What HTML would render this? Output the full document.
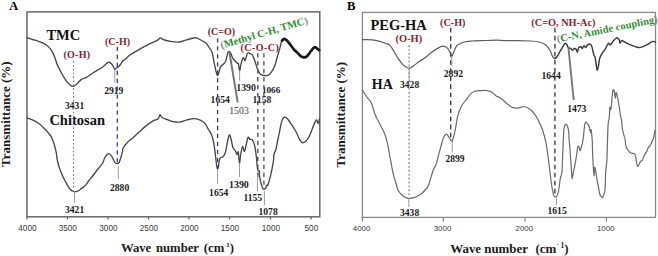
<!DOCTYPE html>
<html><head><meta charset="utf-8">
<style>
html,body{margin:0;padding:0;background:#fff;width:658px;height:256px;overflow:hidden}
svg{display:block}
.sf{font-family:"Liberation Serif",serif;font-weight:bold}
.red{fill:#8c1d2c}
.grn{fill:#2f8a34}
.num{font-family:"Liberation Serif",serif;font-weight:bold;fill:#1a1a1a;font-size:9.6px}
.numr{font-family:"Liberation Serif",serif;fill:#2a2a2a;font-size:9.8px}
.tk{font-family:"Liberation Sans",sans-serif;fill:#383838}
.curve{fill:none;stroke:#474747;stroke-width:1.35;stroke-linejoin:round;stroke-linecap:round}
.dash{stroke:#4c44bc;stroke-width:1.4;stroke-dasharray:4.3 3.66;fill:none}
.dashb{stroke:#3c3c68;stroke-width:1.4;stroke-dasharray:4.6 3.45;fill:none}
.dot{stroke:#74749a;stroke-width:1.1;stroke-dasharray:1.6 2.3;fill:none}
.dotb{stroke:#7c7c9c;stroke-width:1.2;stroke-dasharray:1.9 2.0;fill:none}
.gl{stroke:#9a9a9a;stroke-width:1;fill:none}
</style></head>
<body>
<svg width="658" height="256" viewBox="0 0 658 256">

<!-- PANEL A frame -->
<text x="9" y="10.1" class="sf" font-size="12.8">A</text>
<rect x="27" y="11.9" width="292.8" height="204.9" fill="none" stroke="#666" stroke-width="1.5"/>
<g stroke="#666" stroke-width="1.2">
<line x1="27" y1="216.8" x2="27" y2="219.6"/><line x1="67.4" y1="216.8" x2="67.4" y2="219.6"/>
<line x1="108" y1="216.8" x2="108" y2="219.6"/><line x1="148.5" y1="216.8" x2="148.5" y2="219.6"/>
<line x1="189" y1="216.8" x2="189" y2="219.6"/><line x1="229.5" y1="216.8" x2="229.5" y2="219.6"/>
<line x1="270.5" y1="216.8" x2="270.5" y2="219.6"/><line x1="311" y1="216.8" x2="311" y2="219.6"/>
</g>
<g class="tk" font-size="8.2" text-anchor="middle" transform="translate(0.4,0)">
<text x="27" y="231.2">4000</text><text x="67.4" y="231.2">3500</text><text x="108" y="231.2">3000</text>
<text x="148.5" y="231.2">2500</text><text x="189" y="231.2">2000</text><text x="229.5" y="231.2">1500</text>
<text x="270.5" y="231.2">1000</text><text x="311" y="231.2">500</text>
</g>
<g class="sf" font-size="12.7" fill="#1a1a1a"><text x="120.9" y="251.8">Wave</text><text x="156" y="251.8">number</text><text x="203.8" y="251.8">(cm</text><text x="224.4" y="246.5" font-size="7" fill="#999">-</text><text x="226.2" y="246.8" font-size="7">1</text><text x="229.8" y="251.8">)</text></g>
<text transform="translate(9.9,114.2) rotate(-90)" class="sf" font-size="13" text-anchor="middle" fill="#1a1a1a">Transmittance (%)</text>
<!-- PANEL B frame -->
<text x="347" y="9.7" class="sf" font-size="12.7">B</text>
<rect x="362.4" y="12.4" width="293.1" height="205" fill="none" stroke="#888" stroke-width="1.3"/>
<g stroke="#777" stroke-width="1.1">
<line x1="362.4" y1="217.4" x2="362.4" y2="221.4"/><line x1="443.2" y1="217.4" x2="443.2" y2="221.4"/>
<line x1="525" y1="217.4" x2="525" y2="221.4"/><line x1="606.4" y1="217.4" x2="606.4" y2="221.4"/>
</g>
<g class="tk" font-size="7.9" text-anchor="middle">
<text x="361.6" y="231.1">4000</text><text x="442.5" y="231.1">3000</text>
<text x="524.3" y="231.1">2000</text><text x="605.7" y="231.1">1000</text>
</g>
<g class="sf" font-size="12.95" fill="#1a1a1a"><text x="450.2" y="252.6">Wave</text><text x="484.2" y="252.6">number</text><text x="535.5" y="252.6">(cm</text><text x="556.5" y="247.3" font-size="7.5" fill="#999">-</text><text x="560.6" y="247.6" font-size="7.5">1</text><text x="564.2" y="252.6">)</text></g>
<text transform="translate(345.3,114.7) rotate(-90)" class="sf" font-size="13" text-anchor="middle" fill="#1a1a1a">Transmittance (%)</text>

<path class="curve"  d="M27.0,37.7 C27.8,38.0 30.2,38.7 32.0,39.3 C33.8,39.9 36.1,40.5 37.9,41.1 C39.7,41.7 41.1,42.2 42.6,42.9 C44.1,43.6 45.4,44.2 46.7,45.2 C48.0,46.2 49.1,47.3 50.2,48.7 C51.3,50.1 52.2,51.5 53.1,53.4 C54.0,55.3 55.1,58.2 55.7,60.0 C56.4,61.8 56.0,61.9 57.0,64.1 C58.0,66.3 60.1,70.5 61.6,73.3 C63.1,76.1 64.7,78.9 66.2,80.9 C67.7,82.9 69.5,84.6 70.7,85.5 C71.9,86.4 72.3,86.5 73.3,86.3 C74.3,86.0 75.4,85.2 76.8,84.0 C78.2,82.8 79.9,80.5 81.4,79.4 C82.9,78.3 84.0,78.8 86.0,77.6 C88.0,76.4 91.1,74.1 93.6,72.5 C96.1,70.9 99.3,69.2 101.2,68.0 C103.1,66.8 103.8,66.0 105.0,65.0 C106.2,64.0 107.1,62.6 108.1,62.3 C109.1,62.0 110.3,62.8 111.1,63.4 C111.9,64.0 112.4,65.0 113.0,66.0 C113.6,67.0 114.3,69.2 114.9,69.5 C115.5,69.8 115.7,68.6 116.5,68.0 C117.3,67.4 118.5,66.9 119.5,65.7 C120.5,64.5 121.8,62.1 122.6,61.1 C123.4,60.1 123.2,60.9 124.6,59.8 C125.9,58.7 128.2,56.3 130.7,54.5 C133.2,52.7 136.5,51.0 139.8,49.1 C143.1,47.2 147.6,44.9 150.5,43.4 C153.4,41.9 155.7,41.2 157.3,40.3 C159.0,39.4 159.5,38.1 160.4,37.9 C161.3,37.7 161.0,38.7 162.7,39.3 C164.3,39.9 167.5,40.8 170.3,41.3 C173.1,41.8 176.7,42.3 179.5,42.0 C182.3,41.7 184.4,40.4 187.1,39.7 C189.8,39.0 193.2,37.7 195.5,37.7 C197.8,37.8 199.1,39.1 200.8,40.0 C202.5,40.9 204.6,41.9 205.9,43.0 C207.2,44.1 207.7,45.4 208.6,46.7 C209.5,48.0 210.8,49.6 211.5,51.0 C212.2,52.4 212.2,52.7 212.7,55.0 C213.2,57.3 214.0,62.0 214.6,64.8 C215.2,67.6 215.6,69.8 216.1,71.6 C216.6,73.4 217.1,75.4 217.5,75.6 C217.9,75.8 218.2,74.5 218.7,73.0 C219.2,71.5 219.8,68.4 220.5,66.9 C221.2,65.5 222.3,65.2 223.2,64.3 C224.0,63.3 225.0,62.6 225.6,61.2 C226.2,59.8 226.6,57.4 227.0,56.0 C227.4,54.6 227.6,53.4 227.9,52.6 C228.2,51.8 228.5,51.3 229.0,51.4 C229.5,51.5 230.2,52.1 230.8,53.2 C231.4,54.3 231.9,56.6 232.6,57.9 C233.3,59.2 234.1,59.9 234.9,60.8 C235.7,61.7 236.6,62.7 237.2,63.2 C237.8,63.7 238.0,62.5 238.4,63.8 C238.8,65.1 239.2,70.6 239.6,70.8 C240.0,71.0 240.3,66.9 240.8,64.9 C241.3,63.0 242.0,60.3 242.5,59.1 C243.0,57.9 243.3,57.6 243.7,57.9 C244.1,58.2 244.5,60.8 244.9,60.8 C245.3,60.8 245.6,59.1 246.0,57.9 C246.4,56.7 246.8,54.7 247.2,53.8 C247.6,52.9 247.9,52.6 248.4,52.6 C248.9,52.6 249.5,53.5 250.1,53.8 C250.7,54.1 251.3,53.7 251.9,54.4 C252.5,55.1 253.1,56.5 253.7,57.9 C254.3,59.3 254.8,60.9 255.4,62.6 C256.0,64.4 256.6,66.8 257.2,68.4 C257.8,70.0 258.1,70.9 258.9,72.0 C259.7,73.1 260.6,74.7 262.1,75.2 C263.7,75.7 266.7,75.7 268.2,75.2 C269.7,74.7 270.2,73.7 271.3,72.2 C272.4,70.7 273.7,68.4 274.6,66.3 C275.5,64.2 275.9,61.9 276.5,59.8 C277.1,57.6 277.7,55.4 278.3,53.4 C278.9,51.4 279.4,49.6 280.0,47.6 C280.6,45.6 281.0,42.6 281.7,41.1 C282.4,39.6 283.7,39.2 284.1,38.8"/>
<path class="curve" style="stroke:#181818;stroke-width:2.7" d="M282.0,40.6 C282.4,40.3 283.4,38.9 284.1,38.8 C284.8,38.7 285.4,39.1 286.4,40.0 C287.4,40.9 288.7,42.6 289.9,44.1 C291.1,45.6 292.2,47.4 293.4,48.8 C294.6,50.2 295.8,51.2 297.0,52.4 C298.2,53.6 299.6,55.1 300.5,55.9 C301.4,56.7 301.8,56.8 302.5,57.0 C303.2,57.2 303.8,57.5 304.5,57.4 C305.2,57.3 305.8,57.1 306.5,56.6 C307.2,56.1 307.8,55.3 308.5,54.4 C309.2,53.5 310.0,52.2 311.0,51.0 C312.0,49.8 313.5,47.8 314.5,47.3 C315.5,46.8 316.1,47.8 316.9,48.3 C317.7,48.8 318.8,50.0 319.2,50.4"/>
<path class="curve"  d="M27.3,118.0 C28.4,118.4 32.0,119.5 34.1,120.6 C36.2,121.7 38.2,122.7 40.2,124.4 C42.2,126.1 44.5,128.7 46.3,130.6 C48.1,132.5 49.6,133.9 50.9,136.1 C52.2,138.3 53.1,140.9 54.0,143.7 C54.9,146.5 55.8,150.2 56.3,152.9 C56.8,155.6 56.8,157.6 57.3,160.0 C57.8,162.4 58.5,165.1 59.3,167.6 C60.1,170.1 61.5,173.2 62.3,175.2 C63.1,177.1 63.6,178.0 64.3,179.3 C65.0,180.6 65.5,181.7 66.2,182.9 C66.9,184.2 67.8,185.7 68.5,186.8 C69.2,187.9 70.0,189.0 70.7,189.7 C71.4,190.4 72.0,190.7 72.5,191.0 C73.0,191.3 73.5,191.5 74.0,191.6 C74.5,191.7 74.9,191.8 75.5,191.7 C76.1,191.6 76.9,191.5 77.6,191.2 C78.3,190.9 79.3,190.3 79.9,189.8 C80.5,189.3 81.0,188.7 81.4,188.4 C81.9,188.1 82.1,188.2 82.6,187.9 C83.1,187.6 83.6,186.9 84.2,186.3 C84.8,185.8 85.2,185.6 86.0,184.6 C86.8,183.6 88.0,181.8 89.0,180.5 C90.0,179.2 90.8,178.4 92.1,176.8 C93.4,175.2 95.3,172.3 96.6,170.7 C97.9,169.0 98.7,168.2 99.7,166.9 C100.7,165.6 101.8,164.6 102.7,163.0 C103.6,161.4 104.0,159.0 105.0,157.4 C106.0,155.8 107.6,153.7 108.8,153.6 C110.0,153.5 111.1,155.5 111.9,156.7 C112.7,157.8 113.2,159.4 113.8,160.5 C114.4,161.6 114.9,162.5 115.5,163.0 C116.1,163.5 116.7,163.7 117.3,163.6 C117.9,163.5 118.5,163.2 119.0,162.5 C119.5,161.8 119.6,161.4 120.2,159.5 C120.8,157.6 122.1,153.2 122.6,151.3 C123.1,149.4 122.2,149.8 123.0,148.3 C123.8,146.8 126.1,143.8 127.6,142.2 C129.1,140.5 130.4,140.0 132.2,138.4 C134.0,136.8 136.0,134.9 138.3,132.8 C140.6,130.7 143.4,127.9 145.9,125.9 C148.4,123.9 151.5,121.8 153.5,120.6 C155.5,119.4 157.0,120.0 158.1,119.0 C159.2,118.0 159.3,115.0 159.9,114.8 C160.5,114.5 160.9,116.8 161.9,117.5 C162.9,118.2 164.0,118.4 165.7,119.0 C167.3,119.6 169.5,120.8 171.8,121.3 C174.1,121.8 176.9,122.3 179.5,122.1 C182.1,121.8 184.6,120.4 187.1,119.8 C189.6,119.2 192.4,118.5 194.7,118.6 C197.0,118.7 199.1,119.5 200.8,120.3 C202.5,121.1 203.6,121.9 204.9,123.4 C206.2,124.9 207.4,127.6 208.5,129.5 C209.6,131.4 210.8,133.1 211.6,135.0 C212.4,136.9 212.8,138.1 213.4,141.1 C214.0,144.1 214.8,149.9 215.2,153.2 C215.6,156.5 215.8,158.7 216.1,161.0 C216.4,163.3 216.7,165.6 216.9,167.0 C217.2,168.4 217.3,169.3 217.6,169.3 C217.8,169.3 218.2,168.2 218.4,167.0 C218.6,165.8 218.8,163.2 219.0,162.0 C219.2,160.8 219.3,160.2 219.6,159.5 C219.9,158.8 220.1,157.9 220.7,157.5 C221.3,157.1 222.3,157.8 223.1,156.9 C223.9,156.0 224.8,154.4 225.5,152.0 C226.2,149.6 226.8,145.1 227.4,142.3 C228.0,139.5 228.6,135.6 229.2,135.0 C229.8,134.4 230.4,136.6 231.0,138.6 C231.6,140.6 232.1,145.2 232.8,147.2 C233.5,149.2 234.6,149.6 235.3,150.8 C236.0,152.0 236.6,154.3 237.1,154.5 C237.6,154.7 237.9,150.6 238.3,152.0 C238.7,153.4 239.1,162.6 239.5,163.0 C239.9,163.4 240.2,157.2 240.7,154.5 C241.2,151.8 242.0,147.1 242.6,146.6 C243.2,146.1 243.8,151.7 244.4,151.4 C245.0,151.1 245.6,147.0 246.2,144.7 C246.8,142.4 247.4,138.3 248.0,137.4 C248.6,136.5 249.1,138.9 249.8,139.3 C250.5,139.7 251.5,138.8 252.3,139.9 C253.1,141.0 254.0,142.9 254.7,145.9 C255.4,148.9 256.1,154.7 256.5,158.0 C256.9,161.3 256.9,163.6 257.1,165.5 C257.3,167.4 257.5,168.6 257.7,169.5 C257.9,170.4 258.1,170.7 258.4,171.0 C258.7,171.3 259.2,170.6 259.4,171.2 C259.6,171.8 259.3,173.2 259.4,174.6 C259.5,176.0 259.9,177.9 260.2,179.5 C260.5,181.1 261.0,182.9 261.4,184.3 C261.8,185.7 262.2,187.2 262.6,188.0 C263.0,188.8 263.3,189.4 263.8,189.4 C264.3,189.4 265.2,188.7 265.7,188.0 C266.2,187.3 266.6,185.4 266.9,185.0 C267.2,184.6 267.2,185.9 267.5,185.5 C267.8,185.1 268.2,184.1 268.7,182.5 C269.2,180.9 269.9,178.3 270.5,175.8 C271.1,173.3 271.8,169.9 272.3,167.3 C272.8,164.7 273.3,162.2 273.6,160.0 C273.9,157.8 273.6,155.7 274.0,154.0 C274.4,152.3 275.3,151.6 275.8,149.8 C276.3,148.0 276.8,145.1 277.2,143.0 C277.6,140.9 277.9,139.4 278.3,137.5 C278.7,135.6 279.1,133.9 279.6,131.4 C280.1,128.9 280.8,124.8 281.4,122.6 C282.0,120.4 282.4,119.1 283.1,118.2 C283.8,117.3 284.9,117.0 285.8,117.3 C286.7,117.6 287.4,118.7 288.4,120.0 C289.4,121.3 290.8,123.5 291.9,125.2 C293.0,126.9 294.1,128.5 295.0,130.0 C295.9,131.5 296.5,132.6 297.2,134.0 C297.9,135.4 298.1,136.9 299.0,138.4 C299.9,139.9 301.3,142.4 302.5,142.8 C303.7,143.2 305.0,141.9 306.0,141.0 C307.0,140.1 307.7,139.1 308.6,137.5 C309.5,135.9 310.3,133.9 311.3,131.4 C312.3,128.9 313.9,124.5 314.8,122.6 C315.7,120.7 315.9,119.8 316.5,120.0 C317.1,120.2 317.8,123.7 318.3,123.5 C318.8,123.3 319.1,119.8 319.3,119.0"/>
<path class="curve" style="stroke:#5e5e5e;stroke-width:1.25" d="M362.5,39.7 C364.1,39.7 369.3,39.5 372.2,39.8 C375.1,40.1 377.5,40.7 379.8,41.3 C382.1,41.9 384.4,43.0 385.9,43.5 C387.4,44.0 388.1,43.9 389.0,44.6 C389.9,45.3 390.8,46.5 391.5,47.5 C392.2,48.5 392.4,48.9 393.5,50.7 C394.6,52.5 396.6,56.0 398.1,58.3 C399.6,60.6 400.9,62.8 402.7,64.4 C404.5,66.1 407.0,68.0 408.8,68.2 C410.6,68.5 411.6,67.1 413.4,65.9 C415.2,64.8 417.5,62.7 419.5,61.3 C421.5,59.9 423.5,59.0 425.5,57.5 C427.5,56.0 429.6,53.7 431.6,52.2 C433.6,50.7 436.2,49.3 437.7,48.4 C439.2,47.5 439.8,47.0 440.8,46.6 C441.8,46.2 442.7,45.8 443.8,46.1 C444.9,46.4 446.6,47.2 447.7,48.4 C448.8,49.6 449.8,52.2 450.5,53.5 C451.2,54.8 451.2,56.5 451.7,56.3 C452.2,56.1 453.0,53.8 453.7,52.2 C454.4,50.6 455.3,48.1 456.0,46.9 C456.7,45.7 456.6,45.6 458.0,44.8 C459.4,44.0 461.6,42.7 464.1,42.0 C466.7,41.3 469.7,41.0 473.3,40.8 C476.9,40.5 481.7,40.6 485.5,40.5 C489.3,40.4 492.9,40.1 496.2,40.1 C499.5,40.1 502.0,40.6 505.3,40.7 C508.6,40.8 511.7,40.6 516.0,40.6 C520.3,40.6 527.4,40.8 531.2,41.0 C535.1,41.2 536.8,41.4 539.1,42.0 C541.4,42.6 543.4,43.3 545.2,44.6 C547.0,45.9 548.5,47.9 549.8,50.0 C551.1,52.1 552.1,55.7 552.9,57.1 C553.7,58.5 554.1,58.6 554.7,58.6 C555.3,58.6 556.2,57.4 556.5,57.2"/>
<path class="curve" style="stroke:#3a3a3a;stroke-width:1.45" d="M554.7,58.6 C555.0,58.4 555.9,57.8 556.5,57.2 C557.1,56.6 557.5,55.9 558.2,54.8 C558.9,53.7 559.9,51.6 560.5,50.5 C561.1,49.4 561.5,49.1 562.0,48.2 C562.5,47.3 563.2,45.8 563.8,45.0 C564.3,44.2 564.8,43.4 565.3,43.3 C565.8,43.2 566.3,43.8 566.8,44.5 C567.3,45.2 567.5,46.9 568.2,47.6 C568.9,48.3 570.1,48.1 570.8,48.5 C571.5,48.9 572.0,50.2 572.6,50.2 C573.2,50.2 573.7,48.6 574.3,48.5 C574.9,48.4 575.6,48.7 576.1,49.3 C576.6,49.9 577.1,52.3 577.5,52.0 C577.9,51.7 578.1,48.5 578.7,47.6 C579.3,46.7 580.4,46.6 581.0,46.7 C581.6,46.9 581.7,48.6 582.2,48.5 C582.7,48.4 583.4,45.9 584.0,45.8 C584.6,45.6 585.2,47.8 585.8,47.6 C586.4,47.5 586.8,45.5 587.5,44.9 C588.2,44.3 589.4,43.8 590.1,44.1 C590.8,44.4 591.3,45.0 591.9,46.7 C592.5,48.5 593.2,52.9 593.7,54.6 C594.2,56.4 594.7,55.5 595.1,57.2 C595.5,59.0 595.9,62.9 596.3,65.1 C596.6,67.3 596.8,70.4 597.2,70.4 C597.6,70.4 598.2,67.1 598.6,65.1 C599.0,63.0 599.1,60.1 599.8,58.1 C600.4,56.1 601.6,54.3 602.5,52.8 C603.4,51.3 604.4,50.5 605.1,49.3 C605.8,48.1 606.2,46.8 606.8,45.8 C607.4,44.8 608.0,43.4 608.6,43.2 C609.2,43.1 609.7,45.2 610.4,44.9 C611.1,44.6 612.0,42.6 613.0,41.4 C614.0,40.2 615.5,38.2 616.5,37.9 C617.5,37.6 618.5,38.8 619.1,39.7 C619.7,40.6 619.5,43.1 620.0,43.2 C620.5,43.3 620.9,40.6 621.8,40.5 C622.7,40.4 623.8,41.6 625.3,42.3 C626.8,43.0 628.9,44.2 630.6,44.9 C632.4,45.6 634.3,46.2 635.8,46.7 C637.3,47.2 638.2,47.6 639.4,47.6 C640.6,47.6 641.4,47.3 642.9,46.7 C644.4,46.1 646.5,45.0 648.1,44.1 C649.7,43.2 651.3,41.7 652.5,41.4 C653.7,41.1 655.0,42.1 655.5,42.2"/>
<path class="curve" style="stroke:#6a6a6a;stroke-width:1.2" d="M362.3,90.2 C363.1,91.3 365.4,94.8 366.9,97.0 C368.4,99.2 370.0,100.1 371.4,103.1 C372.8,106.1 373.8,111.3 375.2,114.8 C376.6,118.3 378.3,121.0 379.8,124.0 C381.3,127.0 383.1,129.8 384.4,133.0 C385.7,136.2 386.5,139.6 387.4,143.3 C388.3,147.1 389.0,152.0 389.7,155.5 C390.4,159.0 390.7,160.9 391.3,164.1 C391.9,167.3 392.6,171.2 393.5,174.8 C394.4,178.4 395.8,182.9 396.6,185.5 C397.4,188.1 397.1,188.6 398.1,190.3 C399.1,192.0 400.9,194.3 402.7,195.7 C404.5,197.0 406.8,198.2 408.8,198.4 C410.8,198.7 412.9,197.9 414.9,197.2 C416.9,196.5 419.2,195.4 421.0,194.1 C422.8,192.8 424.2,191.1 425.5,189.6 C426.8,188.1 427.3,188.2 428.6,185.0 C429.9,181.8 431.9,173.7 433.2,170.2 C434.5,166.7 435.2,167.1 436.2,164.1 C437.2,161.1 438.1,156.6 439.3,152.4 C440.5,148.2 442.0,141.8 443.1,138.7 C444.2,135.6 445.2,134.5 446.1,134.1 C447.0,133.7 447.5,135.2 448.4,136.4 C449.3,137.6 450.7,140.6 451.5,141.0 C452.3,141.4 452.4,140.6 453.0,138.7 C453.6,136.8 454.5,133.5 455.3,129.6 C456.1,125.7 456.9,119.2 458.0,115.2 C459.1,111.2 460.6,107.8 461.9,105.3 C463.2,102.8 464.3,102.3 465.7,100.5 C467.1,98.7 468.7,95.9 470.2,94.4 C471.7,92.9 473.0,91.9 474.8,91.3 C476.6,90.7 478.9,90.7 480.9,90.6 C482.9,90.5 485.2,90.3 487.0,90.6 C488.8,90.8 490.1,91.2 491.6,92.1 C493.1,93.0 494.7,94.9 496.2,95.9 C497.7,96.9 498.9,96.9 500.7,98.2 C502.5,99.5 504.8,101.9 506.8,103.5 C508.8,105.1 510.9,106.9 512.9,107.6 C514.9,108.3 517.1,108.1 519.0,107.9 C520.9,107.7 522.2,106.3 524.0,106.5 C525.8,106.7 528.0,107.9 529.7,109.1 C531.4,110.3 532.8,111.7 534.3,113.7 C535.8,115.7 537.4,118.7 538.8,121.3 C540.1,123.9 541.2,126.0 542.4,129.5 C543.6,133.0 544.8,137.1 545.8,142.2 C546.8,147.3 547.9,155.4 548.5,160.0 C549.1,164.6 549.2,165.5 549.7,169.7 C550.2,173.9 551.1,181.4 551.6,185.0 C552.1,188.6 552.4,189.3 552.8,191.1 C553.2,192.9 553.4,195.1 554.0,196.0 C554.6,196.9 555.7,197.2 556.4,196.6 C557.1,196.0 557.7,194.2 558.2,192.3 C558.7,190.4 559.2,187.1 559.5,185.0 C559.8,182.9 559.7,181.6 560.1,179.5 C560.5,177.4 561.5,175.4 561.9,172.2 C562.3,168.9 562.3,164.6 562.5,160.0 C562.7,155.4 562.9,149.5 563.1,144.7 C563.3,139.9 563.5,134.1 563.8,131.0 C564.0,127.9 564.3,127.1 564.6,126.0 C564.9,124.9 565.2,124.6 565.6,124.4 C566.0,124.2 566.4,124.3 566.8,124.8 C567.2,125.3 567.5,126.5 567.8,127.5 C568.1,128.5 568.4,128.8 568.6,131.0 C568.8,133.2 569.0,138.3 569.2,141.0 C569.4,143.7 569.4,142.0 569.8,147.2 C570.2,152.4 571.2,166.9 571.6,172.2 C572.0,177.5 571.9,178.8 572.2,178.8 C572.5,178.8 573.0,174.3 573.4,172.2 C573.8,170.1 574.2,168.8 574.7,166.1 C575.2,163.3 576.0,158.8 576.5,155.7 C577.0,152.5 577.3,148.7 577.7,147.2 C578.1,145.7 578.5,146.0 578.9,146.6 C579.3,147.2 579.7,150.7 580.1,150.8 C580.5,150.9 580.9,148.6 581.3,147.2 C581.7,145.8 582.2,144.2 582.6,142.3 C583.0,140.4 583.2,138.1 583.5,136.0 C583.8,133.9 583.9,132.1 584.1,130.0 C584.4,127.9 584.6,124.7 585.0,123.4 C585.4,122.1 585.8,122.1 586.2,122.2 C586.6,122.3 587.0,123.5 587.4,124.0 C587.8,124.5 588.2,124.3 588.6,125.2 C589.0,126.1 589.5,128.3 589.8,129.5 C590.1,130.7 590.3,132.5 590.5,132.5 C590.7,132.5 590.9,129.2 591.1,129.5 C591.3,129.8 591.5,132.4 591.7,134.3 C591.9,136.2 592.1,137.8 592.3,141.0 C592.4,144.2 592.4,148.4 592.6,153.2 C592.8,158.0 593.2,165.9 593.5,169.7 C593.8,173.5 593.9,176.2 594.1,175.8 C594.3,175.4 594.4,167.9 594.7,167.3 C595.0,166.7 595.5,170.0 595.9,172.2 C596.3,174.4 596.7,178.3 597.1,180.7 C597.5,183.1 598.0,184.6 598.4,186.7 C598.8,188.8 599.2,191.9 599.6,193.5 C600.0,195.1 600.5,195.8 601.0,196.5 C601.5,197.2 602.0,197.8 602.4,197.6 C602.8,197.4 603.1,196.8 603.5,195.5 C603.9,194.2 604.6,193.8 605.0,189.9 C605.4,186.0 605.4,177.2 605.7,172.2 C606.0,167.2 606.6,165.2 606.9,160.0 C607.2,154.8 607.3,146.9 607.5,141.0 C607.7,135.1 607.8,128.5 608.1,124.6 C608.4,120.6 609.0,120.2 609.3,117.3 C609.6,114.4 609.6,108.5 609.9,107.2 C610.2,105.9 610.5,111.0 610.9,109.3 C611.3,107.6 611.8,100.4 612.1,97.2 C612.5,94.0 612.6,90.8 613.0,89.9 C613.4,89.0 614.0,90.4 614.4,91.7 C614.8,93.0 615.0,97.8 615.3,98.0 C615.6,98.2 615.8,92.8 616.2,92.6 C616.6,92.4 617.0,94.6 617.5,97.0 C618.0,99.4 618.8,104.0 619.3,107.2 C619.8,110.4 620.2,114.1 620.6,116.2 C621.0,118.3 621.2,117.9 621.5,120.0 C621.8,122.1 621.9,126.3 622.4,129.0 C622.9,131.7 623.8,134.7 624.2,136.2 C624.6,137.7 624.6,136.2 624.9,138.0 C625.2,139.8 625.6,144.9 626.2,147.0 C626.8,149.1 627.7,149.6 628.5,150.6 C629.3,151.6 630.0,152.6 630.9,153.1 C631.8,153.6 633.3,153.0 634.1,153.5 C634.9,154.0 635.2,154.9 635.6,156.3 C636.0,157.7 636.1,160.0 636.4,161.7 C636.7,163.4 637.1,166.0 637.6,166.4 C638.1,166.8 638.6,164.9 639.1,164.1 C639.6,163.2 640.2,162.0 640.7,161.3 C641.2,160.7 641.7,161.2 642.3,160.2 C642.9,159.2 643.5,156.9 644.2,155.5 C644.9,154.1 645.9,152.9 646.6,151.6 C647.3,150.3 647.5,149.1 648.2,147.9 C648.9,146.7 650.1,145.7 650.9,144.3 C651.6,143.0 652.2,140.9 652.7,139.8 C653.2,138.8 653.2,139.3 653.6,138.0 C654.0,136.7 654.5,133.0 654.8,131.7 C655.1,130.4 655.2,130.3 655.3,130.0"/>
<!-- labels A -->
<text x="46.4" y="39.5" class="sf" font-size="14.5" fill="#111">TMC</text>
<text x="49.4" y="124.7" class="sf" font-size="14.5" fill="#111">Chitosan</text>
<text x="63.4" y="58.1" class="sf red" font-size="10" letter-spacing="0.3">(O-H)</text>
<text x="105" y="45" class="sf red" font-size="10">(C-H)</text>
<text x="207.7" y="35" class="sf red" font-size="10">(C=O)</text>
<text x="240.6" y="50.6" class="sf red" font-size="10" letter-spacing="0.45">(C-O-C)</text>
<text transform="translate(221.6,48.7) rotate(-16.2)" class="sf grn" font-size="10.5"><tspan fill="#8a8a8a">(</tspan>Methyl C-H, TMC<tspan fill="#8a8a8a">)</tspan></text>
<text x="65" y="109.2" class="num">3431</text>
<text x="104.2" y="94" class="num">2919</text>
<text x="210.6" y="102.8" class="num">1654</text>
<text x="236.2" y="90.6" class="num" style="fill:#2a2a2a;font-size:9.9px">1390</text>
<text x="229.2" y="113.7" class="numr" style="fill:#3c3c3c">1503</text>
<text x="252.6" y="102.9" class="num">1158</text>
<text x="261.9" y="92.9" class="num" style="fill:#222;font-size:9.2px">1066</text>
<text x="110" y="190.5" class="num">2880</text>
<text x="65" y="213.2" class="num">3421</text>
<text x="209.1" y="195.8" class="num">1654</text>
<text x="229" y="187.9" class="num" style="font-size:9.9px">1390</text>
<text x="243.4" y="200.7" class="num">1155</text>
<text x="258.5" y="215.3" class="num">1078</text>
<!-- labels B -->
<text x="370.4" y="29.5" class="sf" font-size="14.5" fill="#111">PEG-HA</text>
<text x="371.8" y="89.4" class="sf" font-size="14" fill="#111">HA</text>
<text x="395.6" y="41.8" class="sf red" font-size="10.4">(O-H)</text>
<text x="440" y="25.6" class="sf red" font-size="10.2">(C-H)</text>
<text x="531.3" y="26" class="sf red" font-size="10.3">(C=O, NH-Ac)</text>
<text transform="translate(557.5,42.5) rotate(-11.3)" class="sf grn" font-size="10.4" letter-spacing="0.12"><tspan fill="#8a8a8a">(</tspan>C-N, Amide coupling<tspan fill="#8a8a8a">)</tspan></text>
<text x="400" y="87.6" class="num" font-size="9.15">3428</text>
<text x="443.8" y="76.9" class="num" font-size="9.15">2892</text>
<text x="541.5" y="79.3" class="num" font-size="9.15">1644</text>
<text x="567.2" y="111.5" class="num" font-size="9.15">1473</text>
<text x="445.4" y="161.6" class="num" font-size="9.15">2899</text>
<text x="400" y="216.3" class="num" font-size="9.15">3438</text>
<text x="547.5" y="213.6" class="num" font-size="9.15">1615</text>

<!-- guide lines A -->
<line x1="73.5" y1="61" x2="73.5" y2="189" class="dot"/>
<line x1="117.3" y1="46.8" x2="117.3" y2="162" class="dash"/>
<line x1="217.6" y1="38.3" x2="217.6" y2="168" class="dash" style="stroke:#42428c"/>
<line x1="257.8" y1="53.2" x2="257.8" y2="180" class="dash" style="stroke:#4a4a78"/>
<line x1="263.9" y1="53.2" x2="263.9" y2="189" class="dash" style="stroke:#5252a2"/>
<line x1="114.8" y1="69.5" x2="114.8" y2="82.4" class="gl"/>
<line x1="74.5" y1="191" x2="74.5" y2="202.5" class="gl"/>
<line x1="118.3" y1="166" x2="118.3" y2="179" class="gl"/>
<line x1="239.6" y1="70.8" x2="239.6" y2="80.7" class="gl"/>
<line x1="217.6" y1="169" x2="217.6" y2="183.7" class="gl"/>
<line x1="239.5" y1="163" x2="239.5" y2="177" class="gl"/>
<line x1="257.4" y1="175" x2="257.4" y2="191.5" class="gl"/>
<line x1="264.4" y1="191" x2="264.4" y2="205" class="gl"/>
<line x1="229.4" y1="52" x2="237.7" y2="102.4" stroke="#727272" stroke-width="1.9"/>
<!-- guide lines B -->
<line x1="409.1" y1="45" x2="409.1" y2="197" class="dotb"/>
<line x1="450.7" y1="28" x2="450.7" y2="141" class="dashb"/>
<line x1="554.9" y1="27.8" x2="554.9" y2="196" class="dashb"/>
<line x1="408.8" y1="198" x2="408.8" y2="207" class="gl"/>
<line x1="409.1" y1="68" x2="409.1" y2="80" stroke="#a4a4c4" stroke-width="1.1"/>
<line x1="452.2" y1="141" x2="452.2" y2="152.4" class="gl"/>
<line x1="451.8" y1="56" x2="451.8" y2="66" class="gl"/>
<line x1="556.4" y1="196.6" x2="556.4" y2="205.1" class="gl"/>
<line x1="568.4" y1="47.5" x2="573.7" y2="100" stroke="#767676" stroke-width="1.9"/>

</svg>
</body></html>
